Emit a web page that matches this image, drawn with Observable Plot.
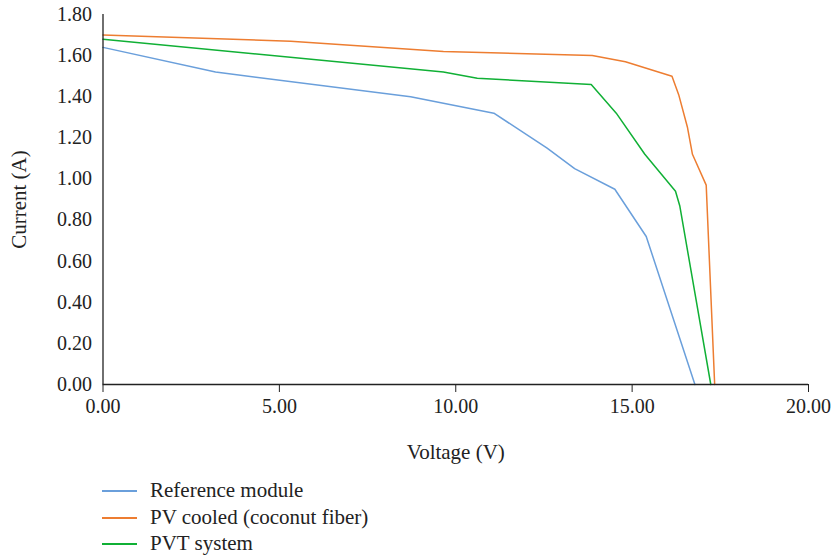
<!DOCTYPE html>
<html>
<head>
<meta charset="utf-8">
<script src="https://cdn.jsdelivr.net/npm/d3@7"></script>
<script src="https://cdn.jsdelivr.net/npm/@observablehq/plot@0.6"></script>
<style>
  html, body { margin: 0; padding: 0; background: #fff; }
  #chart svg { display: block; }
  #chart svg g[aria-label="x-axis label"] text, #chart svg g[aria-label="y-axis label"] text { font-size: 21px; }
  #legend { font-family: "Liberation Serif", "DejaVu Serif", serif; font-size: 21px; color: #222;
            padding-left: 102px; margin-top: 7px; }
  .row { height: 26.5px; line-height: 26.5px; white-space: nowrap; }
  .sw { display: inline-block; width: 35px; height: 2px; vertical-align: middle; margin-right: 13px; position: relative; top: -1px; }
</style>
</head>
<body>
<div id="chart"></div>
<div id="legend"></div>
<script>
// Series names and colours
const seriesNames = ["Reference module", "PV cooled (coconut fiber)", "PVT system"];
const seriesColors = ["#6A9FDB", "#ED7D31", "#10B035"];

// Reference module
const refV = [0, 3.19, 8.72, 11.08, 12.59, 13.37, 14.51, 15.40, 16.78];
const refI = [1.64, 1.52, 1.40, 1.32, 1.15, 1.05, 0.95, 0.72, 0];

// PV cooled (coconut fiber)
const coolV = [0, 5.32, 9.65, 13.87, 14.81, 16.13, 16.32, 16.57, 16.71, 17.10, 17.34];
const coolI = [1.70, 1.67, 1.62, 1.60, 1.57, 1.50, 1.41, 1.25, 1.12, 0.97, 0];

// PVT system
const pvtV = [0, 9.65, 10.61, 13.84, 14.55, 15.36, 16.23, 16.35, 17.23];
const pvtI = [1.68, 1.52, 1.49, 1.46, 1.32, 1.12, 0.94, 0.87, 0];

// Axis ticks
const xTicks = [0, 5, 10, 15, 20];
const yTicks = [0, 0.2, 0.4, 0.6, 0.8, 1.0, 1.2, 1.4, 1.6, 1.8];

const toRows = (name, vs, is) => vs.map((v, k) => ({series: name, v, i: is[k]}));
const data = [
  ...toRows(seriesNames[0], refV, refI),
  ...toRows(seriesNames[1], coolV, coolI),
  ...toRows(seriesNames[2], pvtV, pvtI)
];

const chart = Plot.plot({
  width: 833,
  height: 470,
  marginTop: 14,
  marginBottom: 86,
  marginLeft: 102.5,
  marginRight: 25,
  style: {fontFamily: "'Liberation Serif', 'DejaVu Serif', serif", fontSize: "20px", color: "#222", background: "#fff"},
  x: {domain: [0, 20], ticks: xTicks, tickFormat: d3.format(".2f"), tickSize: 8, tickPadding: 6,
      label: "Voltage (V)", labelArrow: "none", labelAnchor: "center", labelOffset: 74},
  y: {domain: [0, 1.8], ticks: yTicks, tickFormat: d3.format(".2f"), tickSize: 0, tickPadding: 11,
      label: "Current (A)", labelArrow: "none", labelAnchor: "center", labelOffset: 92},
  color: {domain: seriesNames, range: seriesColors},
  marks: [
    Plot.line(data, {x: "v", y: "i", z: "series", stroke: "series", strokeWidth: 1.5}),
    Plot.ruleX([0], {stroke: "#222", strokeWidth: 1.3}),
    Plot.ruleY([0], {stroke: "#222", strokeWidth: 1.3})
  ]
});
document.getElementById("chart").appendChild(chart);

const legend = document.getElementById("legend");
seriesNames.forEach((name, k) => {
  const row = document.createElement("div");
  row.className = "row";
  const sw = document.createElement("span");
  sw.className = "sw";
  sw.style.background = seriesColors[k];
  row.appendChild(sw);
  row.appendChild(document.createTextNode(name));
  legend.appendChild(row);
});
</script>
</body>
</html>
